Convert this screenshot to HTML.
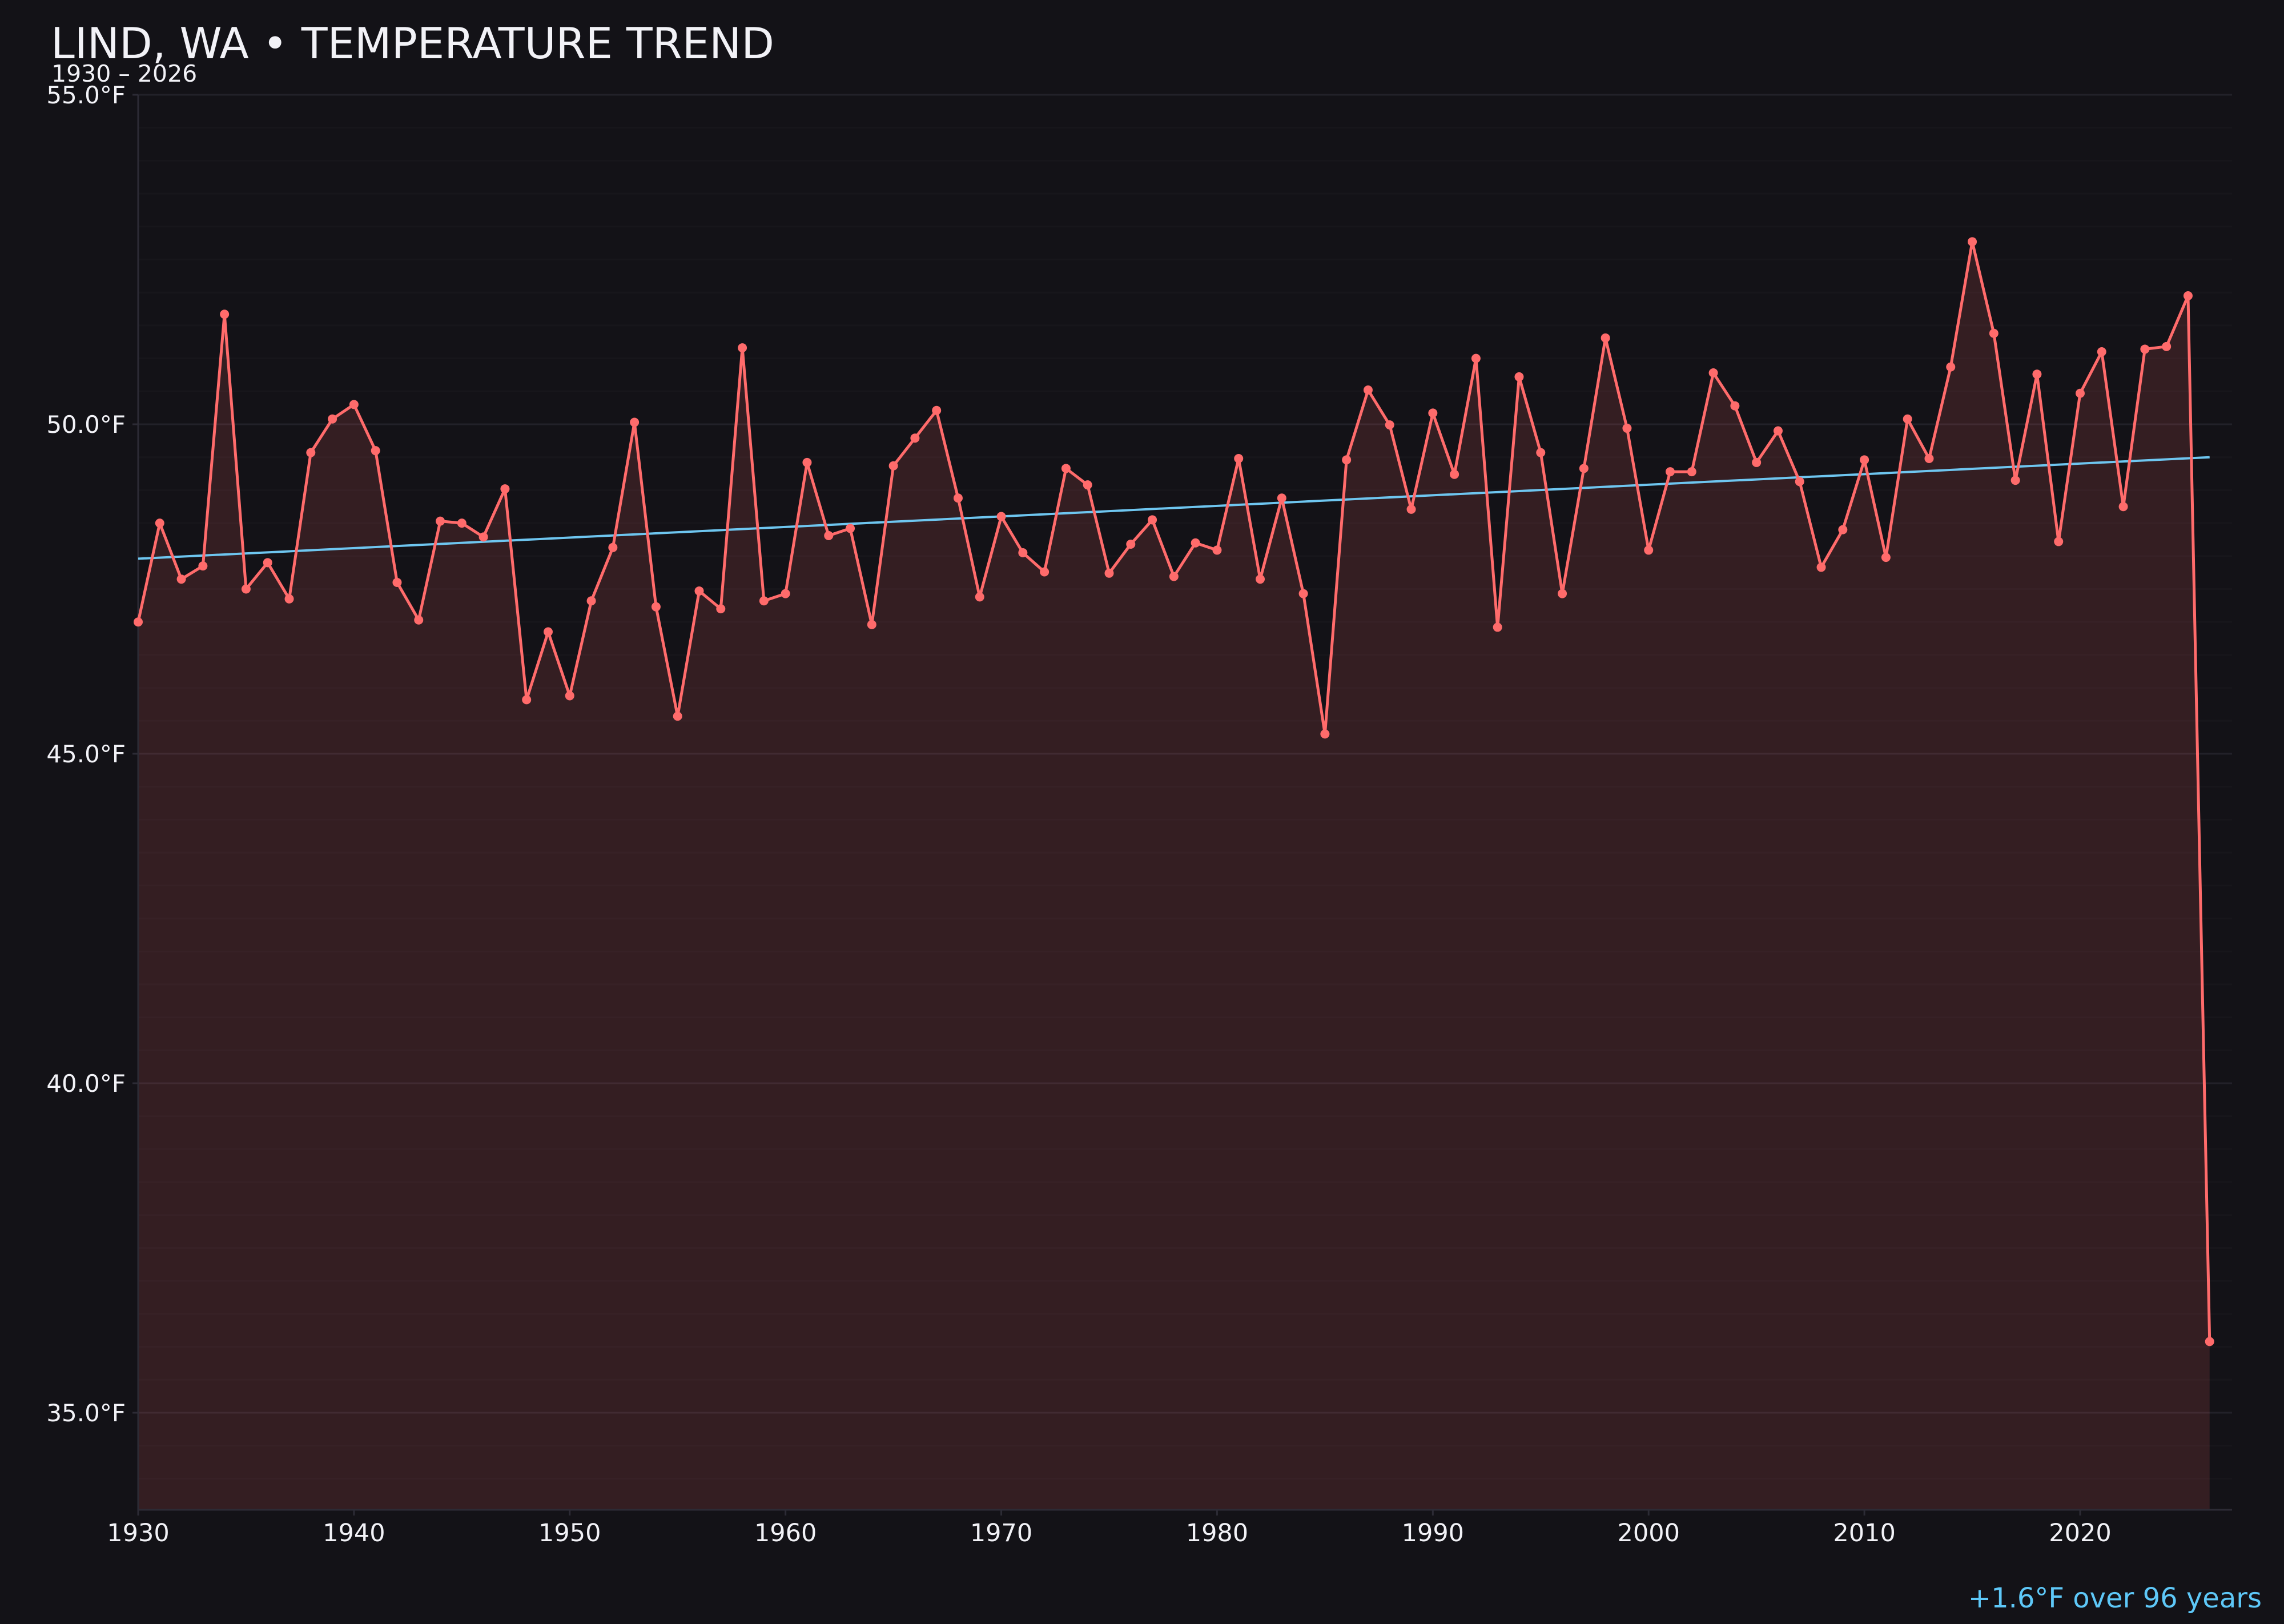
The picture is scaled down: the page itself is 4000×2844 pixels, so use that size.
<!DOCTYPE html>
<html><head><meta charset="utf-8"><style>
html,body{margin:0;padding:0;background:#131217;}
svg{display:block;font-family:"DejaVu Sans","Liberation Sans",sans-serif;}
</style></head><body>
<svg id="chart" width="4000" height="2844" viewBox="0 0 4000 2844" xmlns="http://www.w3.org/2000/svg">
<rect x="0" y="0" width="4000" height="2844" fill="#131217"/>
<text x="89" y="102" font-size="75" fill="#f2f2f7">LIND, WA • TEMPERATURE TREND</text>
<text x="90" y="143" font-size="41" fill="#f2f2f7">1930 – 2026</text>
<g id="grid"></g>
<g id="area"></g>
<g id="axes"></g>
<g id="series"></g>
<text x="3961" y="2815" font-size="48" fill="#5ec8f8" text-anchor="end">+1.6°F over 96 years</text>
</svg>
<script>
const years = [];
for (let y = 1930; y <= 2026; y++) years.push(y);
const temps = [47.0,48.5,47.65,47.85,51.67,47.5,47.9,47.35,49.57,50.08,
50.3,49.6,47.6,47.03,48.53,48.5,48.29,49.02,45.82,46.85,
45.88,47.32,48.13,50.03,47.23,45.57,47.47,47.2,51.16,47.32,
47.43,49.42,48.31,48.42,46.96,49.37,49.79,50.21,48.88,47.38,
48.6,48.05,47.76,49.33,49.08,47.74,48.18,48.55,47.69,48.2,
48.09,49.48,47.65,48.88,47.43,45.3,49.46,50.52,49.99,48.71,
50.17,49.24,51.0,46.92,50.72,49.57,47.43,49.33,51.31,49.94,
48.09,49.28,49.28,50.78,50.28,49.42,49.9,49.13,47.83,48.4,
49.46,47.98,50.08,49.48,50.87,52.77,51.38,49.15,50.76,48.22,
50.47,51.1,48.75,51.14,51.18,51.95,36.08];
const trendYears = [1930, 2026];
const trendValues = [47.96, 49.5];
const yTicks = [35, 40, 45, 50, 55];
const yTickLabels = ["35.0°F","40.0°F","45.0°F","50.0°F","55.0°F"];
const xTicks = [1930,1940,1950,1960,1970,1980,1990,2000,2010,2020];

const NS = "http://www.w3.org/2000/svg";
const L = 242, R = 3909, B = 2644;
function X(yr){ return 242 + (yr - 1930) * (3643 - 242) / 90; }
function Y(v){ return 166 + (55 - v) * (2474 - 166) / 20; }
function mk(tag, attrs, parent){
  const e = document.createElementNS(NS, tag);
  for (const k in attrs) e.setAttribute(k, attrs[k]);
  parent.appendChild(e); return e;
}
const grid = document.getElementById('grid');
for (let v = 34; v <= 55.001; v += 0.5) {
  const major = Math.abs(v % 5) < 1e-6;
  const g = mk('line', {x1:L, x2:R, y1:Y(v), y2:Y(v), stroke: major ? '#222129' : '#17161b', 'stroke-width': 3}, grid);
  
  
}
const area = document.getElementById('area');
let d = 'M' + X(years[0]) + ',' + B;
years.forEach((yr, i) => { d += ' L' + X(yr) + ',' + Y(temps[i]); });
d += ' L' + X(years[years.length-1]) + ',' + B + ' Z';
const ar = mk('path', {d: d, fill: '#ff6b6b', 'fill-opacity': 0.14}, area);



const axes = document.getElementById('axes');
const ls = mk('line', {x1:L, x2:L, y1:166, y2:B, stroke:'#2c2b35', 'stroke-width':3}, axes);


const bs = mk('line', {x1:L, x2:R, y1:B, y2:B, stroke:'#2c2b35', 'stroke-width':3}, axes);


yTicks.forEach((v, i) => {
  const t = mk('line', {x1:L-10, x2:L, y1:Y(v), y2:Y(v), stroke:'#2c2b35', 'stroke-width':3}, axes);
  
  
  const tx = mk('text', {x:220, y:Y(v)+15, 'font-size':42, fill:'#f2f2f7', 'text-anchor':'end'}, axes);
  tx.textContent = yTickLabels[i];
  
  
});
xTicks.forEach(yr => {
  const t = mk('line', {x1:X(yr), x2:X(yr), y1:B, y2:B+10, stroke:'#2c2b35', 'stroke-width':3}, axes);
  
  
  const tx = mk('text', {x:X(yr), y:2699, 'font-size':43, fill:'#f2f2f7', 'text-anchor':'middle'}, axes);
  tx.textContent = String(yr);
  
  
});

const series = document.getElementById('series');
const tl = mk('line', {x1:X(trendYears[0]), y1:Y(trendValues[0]), x2:X(trendYears[1]), y2:Y(trendValues[1]), stroke:'#6ec6f0', 'stroke-width':4}, series);


const pts = years.map((yr, i) => X(yr) + ',' + Y(temps[i])).join(' ');
const pl = mk('polyline', {points: pts, fill:'none', stroke:'#ff6b6b', 'stroke-width':5, 'stroke-linejoin':'round'}, series);


years.forEach((yr, i) => {
  const c = mk('circle', {cx:X(yr), cy:Y(temps[i]), r:8, fill:'#ff6b6b'}, series);
  
  
});
</script>
</body></html>
